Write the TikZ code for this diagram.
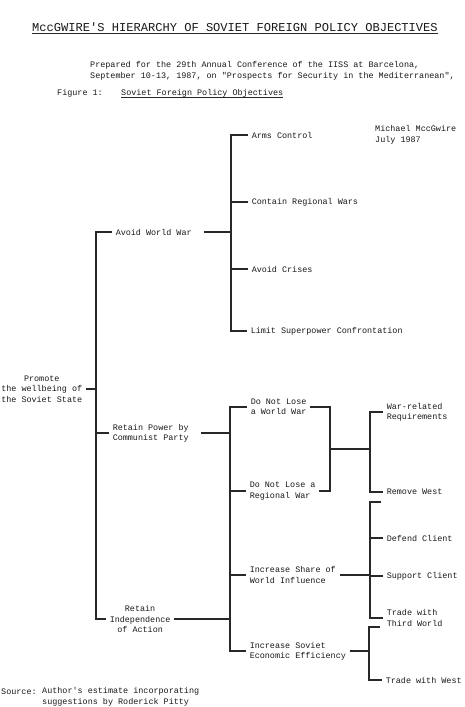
\documentclass[tikz,border=0pt]{standalone}
\usepackage{xcolor}
\usepackage{fontspec}
\setmonofont{Liberation Mono}
\usepackage{tikz}
\usetikzlibrary{positioning}
\definecolor{inkdark}{RGB}{25,25,25}
\definecolor{inkgray}{RGB}{40,40,40}
\tikzset{
  lbl/.style={font=\ttfamily\fontsize{7.2}{8.8}\selectfont, text=inkdark,
    inner xsep=3pt, inner ysep=1pt, align=left, anchor=west},
  clbl/.style={lbl, align=center},
  hdr/.style={font=\ttfamily\fontsize{7.2}{9.4}\selectfont, text=inkdark,
    inner sep=0pt, align=left, anchor=west},
  ttl/.style={font=\ttfamily\fontsize{10.3}{12}\selectfont, text=inkdark,
    inner sep=0pt, anchor=west},
  line/.style={line width=1pt, color=inkgray},
  gapline/.style={line, shorten <=2.5mm},
  uline/.style={line width=0.8pt, color=inkgray}
}

\begin{document}
\begin{tikzpicture}[x=0.03cm, y=-0.03cm]
  \useasboundingbox[fill=white] (0,0) rectangle (464,707);

  % heading
  \node[ttl] (title) at (32,27) {MccGWIRE'S HIERARCHY OF SOVIET FOREIGN POLICY OBJECTIVES};
  \draw[uline] ([yshift=-1.2pt]title.south west) -- ([yshift=-1.2pt]title.south east);
  \node[hdr] (prep) at (90,70.5) {Prepared for the 29th Annual Conference of the IISS at Barcelona,\\September 10-13, 1987, on "Prospects for Security in the Mediterranean",};
  \node[hdr] (fig) at (57,93) {Figure 1:};
  \node[hdr] (figttl) at (121,93) {Soviet Foreign Policy Objectives};
  \draw[uline] (figttl.south west) -- (figttl.south east);
  \node[hdr] (author) at (375,134.5) {Michael MccGwire\\July 1987};

  % objectives
  \node[clbl, anchor=east] (root) at (86,389) {Promote\\the wellbeing of\\the Soviet State};
  \node[lbl] (avoid) at (112,232) {Avoid World War};
  \node[clbl] (power) at (109,433) {Retain Power by\\Communist Party};
  \node[clbl] (indep) at (106,619) {Retain\\Independence\\of Action};

  \node[lbl] (arms)    at (248,135) {Arms Control};
  \node[lbl] (contain) at (248,202) {Contain Regional Wars};
  \node[lbl] (crises)  at (248,269) {Avoid Crises};
  \node[lbl] (limit)   at (247,331) {Limit Superpower Confrontation};

  \node[lbl] (worldwar) at (247,407) {Do Not Lose\\a World War};
  \node[lbl] (regwar)   at (246,491) {Do Not Lose a\\Regional War};
  \node[lbl] (share)    at (246,575) {Increase Share of\\World Influence};
  \node[lbl] (soveff)   at (246,651) {Increase Soviet\\Economic Efficiency};

  \node[lbl] (warreq)    at (383,412) {War-related\\Requirements};
  \node[lbl] (remwest)   at (383,492) {Remove West};
  \node[lbl] (defend)    at (383,538) {Defend Client};
  \node[lbl] (support)   at (383,576) {Support Client};
  \node[lbl] (thirdw)    at (383,618) {Trade with\\Third World};
  \node[lbl] (tradewest) at (382,680) {Trade with West};

  % source
  \node[hdr] (srclbl) at (1,692) {Source:};
  \node[hdr] (srctxt) at (42,697) {Author's estimate incorporating\\suggestions by Roderick Pitty};

  % first level
  \coordinate (sp1) at (96,389);
  \draw[line] (root.east) -- (sp1);
  \draw[line] (avoid.west) -| (sp1) |- (indep.west);
  \draw[line] (power.west) -- (sp1 |- power.west);

  % avoid world war
  \coordinate (sp2) at (231,232);
  \draw[gapline] (avoid.east) -- (sp2);
  \draw[line] (arms.west) -| (sp2) |- (limit.west);
  \draw[line] (contain.west) -- (sp2 |- contain.west);
  \draw[line] (crises.west) -- (sp2 |- crises.west);

  % retain power / independence
  \coordinate (sp3) at (230,433);
  \draw[gapline] (power.east) -- (sp3);
  \draw[line] (indep.east) -- (sp3 |- indep.east);
  \draw[line] (worldwar.west) -| (sp3) |- (soveff.west);
  \draw[line] (regwar.west) -- (sp3 |- regwar.west);
  \draw[line] (share.west) -- (sp3 |- share.west);

  % do not lose a war
  \coordinate (sp4) at (330,449);
  \coordinate (sp5) at (370,449);
  \draw[line] (worldwar.east) -| (sp4) |- (regwar.east);
  \draw[line] (sp4) -- (sp5);
  \draw[line] (warreq.west) -| (sp5) |- (remwest.west);

  % world influence
  \coordinate (btop) at (381,502);
  \coordinate (sp6) at (370,575);
  \draw[line] (share.east) -- (sp6);
  \draw[line] (btop) -| (sp6) |- (thirdw.west);
  \draw[line] (defend.west) -- (sp6 |- defend.west);
  \draw[line] (support.west) -- (sp6 |- support.west);

  % economic efficiency
  \coordinate (ctop) at (380,627);
  \coordinate (sp7) at (369,651);
  \draw[line] (soveff.east) -- (sp7);
  \draw[line] (ctop) -| (sp7) |- (tradewest.west);
\end{tikzpicture}
\end{document}
